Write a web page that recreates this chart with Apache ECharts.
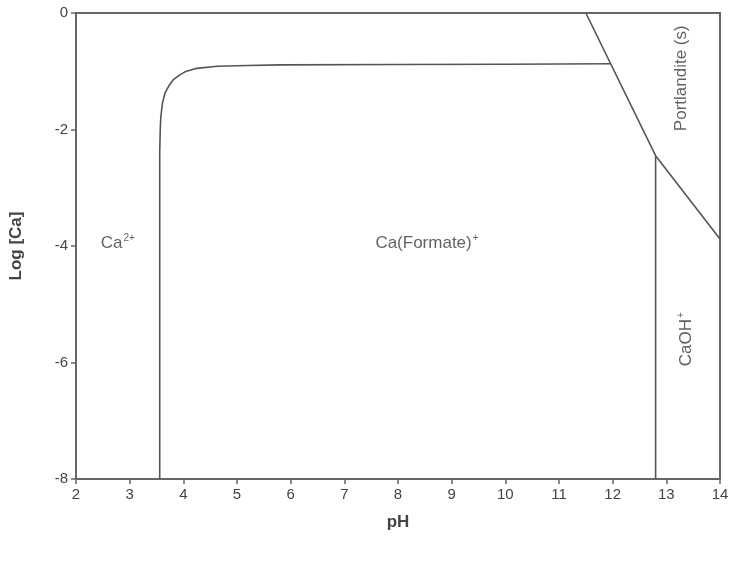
<!DOCTYPE html>
<html>
<head>
<meta charset="utf-8">
<script src="https://cdn.jsdelivr.net/npm/echarts@6/dist/echarts.min.js"></script>
<style>
  html, body { margin: 0; padding: 0; background: #fff; }
  #chart { width: 734px; height: 561px; }
</style>
</head>
<body>
<div id="chart"></div>
<script>
// Ca(Formate)+ stability field boundary: pH vs Log [Ca]
const formatePH  = [3.56, 3.56, 3.57, 3.58, 3.61, 3.66, 3.73, 3.81, 3.92, 4.03, 4.25, 4.63, 5.20, 5.80, 8.00, 10.00, 11.96];
const formateLog = [-8.0, -2.4, -2.0, -1.79, -1.55, -1.37, -1.25, -1.15, -1.07, -1.01, -0.95, -0.915, -0.90, -0.89, -0.885, -0.88, -0.87];

// Portlandite (s) saturation boundary
const portPH  = [11.50, 12.80, 14.00];
const portLog = [0.00, -2.45, -3.88];

// CaOH+ / Ca(Formate)+ boundary
const caohPH  = [12.80, 12.80];
const caohLog = [-8.00, -2.45];

// Field labels: position (pH, Log [Ca]) and rotation
const fieldNames = ['Ca2+', 'Ca(Formate)+', 'Portlandite (s)', 'CaOH+'];
const fieldPH    = [2.78, 8.54, 13.27, 13.37];
const fieldLog   = [-3.95, -3.95, -1.12, -5.6];
const fieldRot   = [0, 0, 90, 90];

const xTicks = { min: 2, max: 14, interval: 1 };
const yTicks = { min: -8, max: 0, interval: 2 };

const pairs = (xs, ys) => xs.map((x, i) => [x, ys[i]]);

const rich = {
  t: { fontFamily: 'Liberation Sans', fontSize: 17, color: '#3a3a3a' },
  s: { fontFamily: 'Liberation Sans', fontSize: 10, color: '#3a3a3a', verticalAlign: 'top', padding: [0, 0, 10, 1] }
};
const fieldText = {
  'Ca2+': '{t|Ca}{s|2+}',
  'Ca(Formate)+': '{t|Ca(Formate)}{s|+}',
  'Portlandite (s)': '{t|Portlandite (s)}',
  'CaOH+': '{t|CaOH}{s|+}'
};

const lineStyle = { color: '#555', width: 1.6 };
const axisColor = '#666';

const chart = echarts.init(document.getElementById('chart'));
chart.setOption({
  animation: false,
  grid: { left: 76, right: 14, top: 13, bottom: 82, show: true, borderColor: axisColor, borderWidth: 2 },
  xAxis: {
    type: 'value', min: xTicks.min, max: xTicks.max, interval: xTicks.interval,
    name: 'pH', nameLocation: 'middle', nameGap: 35,
    nameTextStyle: { fontFamily: 'Liberation Sans', fontSize: 17, fontWeight: 'bold', color: '#444' },
    axisLine: { show: true, onZero: false, lineStyle: { color: axisColor, width: 2 } },
    axisTick: { show: true, length: 5, lineStyle: { color: axisColor, width: 1.5 } },
    axisLabel: { fontFamily: 'Liberation Sans', fontSize: 15, color: '#444', margin: 8 },
    splitLine: { show: false }
  },
  yAxis: {
    type: 'value', min: yTicks.min, max: yTicks.max, interval: yTicks.interval,
    name: 'Log [Ca]', nameLocation: 'middle', nameGap: 51,
    nameTextStyle: { fontFamily: 'Liberation Sans', fontSize: 17, fontWeight: 'bold', color: '#444' },
    axisLine: { show: true, onZero: false, lineStyle: { color: axisColor, width: 2 } },
    axisTick: { show: true, length: 5, lineStyle: { color: axisColor, width: 1.5 } },
    axisLabel: { fontFamily: 'Liberation Sans', fontSize: 15, color: '#444', margin: 8 },
    splitLine: { show: false }
  },
  series: [
    { type: 'line', data: pairs(formatePH, formateLog), symbol: 'none', lineStyle },
    { type: 'line', data: pairs(portPH, portLog), symbol: 'none', lineStyle },
    { type: 'line', data: pairs(caohPH, caohLog), symbol: 'none', lineStyle },
    {
      type: 'scatter', symbolSize: 0,
      data: fieldNames.map((n, i) => ({
        value: [fieldPH[i], fieldLog[i]],
        label: { show: true, position: 'inside', rotate: fieldRot[i], formatter: fieldText[n], rich }
      }))
    }
  ]
});
</script>
</body>
</html>
